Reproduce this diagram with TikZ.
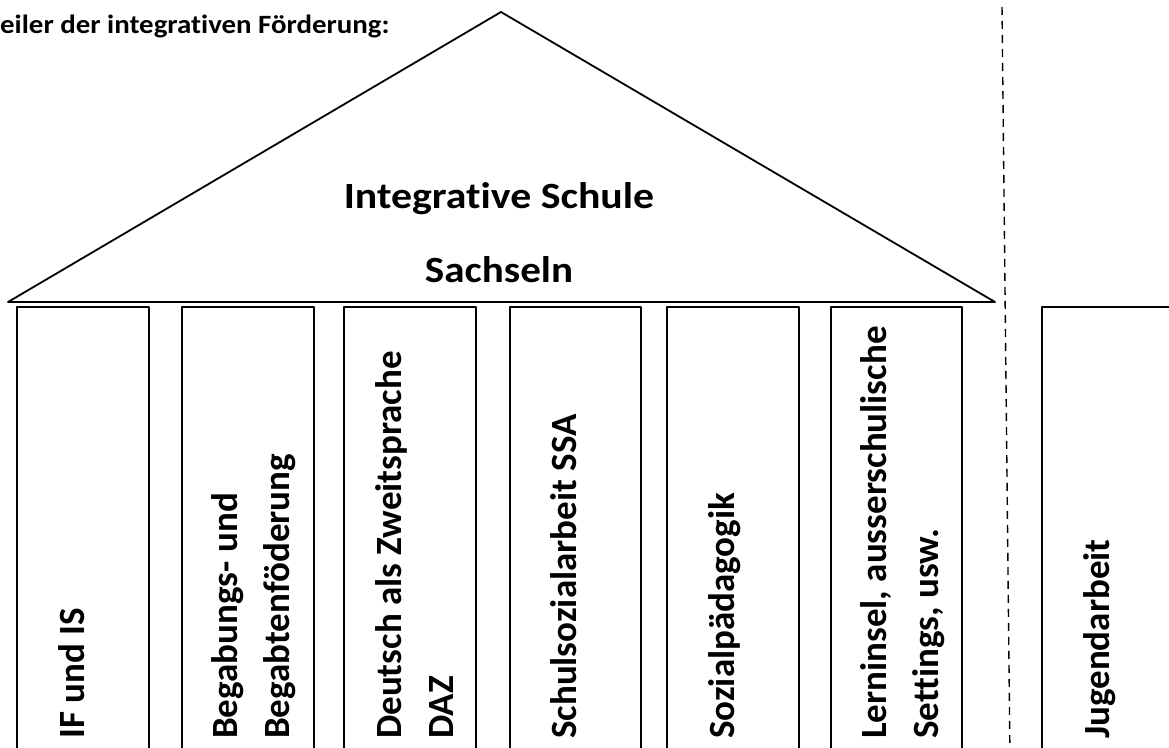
\documentclass[tikz,border=0pt]{standalone}
\usepackage{fontspec}
\setmainfont{Carlito}[Ligatures=NoCommon]
\usetikzlibrary{calc}
\definecolor{qqqqqq}{rgb}{0.,0.,0.}
\tikzset{
  saeule/.style={line width=1.2pt,color=qqqqqq},
  dach/.style={line width=1.8pt,color=qqqqqq},
  saeulentext/.style={rotate=90,anchor=north west,inner sep=0pt,align=left,font=\fontsize{37}{52}\selectfont\bfseries},
  dachtext/.style={anchor=base,inner sep=0pt,font=\fontsize{37}{44}\selectfont\bfseries}
}

\begin{document}
\begin{tikzpicture}[line cap=round,line join=round,x=1pt,y=-1pt]
            \useasboundingbox (0,0) rectangle (1169,747);
            \clip (0,0) rectangle (1169,747);
            % Titel
            \node (titel) at (0,33) [anchor=base west,inner sep=0pt,font=\fontsize{26.4}{31}\selectfont\bfseries] {\scalebox{1.095}[1]{eiler der integrativen Förderung:}};
            % Dach
            \coordinate (dachlinks) at (8,302);
            \coordinate (dachspitze) at (501,12);
            \coordinate (dachrechts) at (995,302);
            \draw [dach] (dachlinks) -- (dachspitze) -- (dachrechts) -- cycle;
            \node (schule) at (499,208) [dachtext] {\scalebox{1.13}[1]{Integrative Schule}};
            \node (ort) at (499,282) [dachtext] {\scalebox{1.11}[1]{Sachseln}};
            % Saeulen
            \draw [saeule] (17,760) -- (17,307) -- (149,307) -- (149,760);
            \draw [saeule] (182,760) -- (182,307) -- (314,307) -- (314,760);
            \draw [saeule] (344,760) -- (344,307) -- (476,307) -- (476,760);
            \draw [saeule] (510,760) -- (510,307) -- (641,307) -- (641,760);
            \draw [saeule] (667,760) -- (667,307) -- (799,307) -- (799,760);
            \draw [saeule] (831,760) -- (831,307) -- (962,307) -- (962,760);
            \draw [saeule] (1042,760) -- (1042,307) -- (1180,307);
            \node (if) at (58,739) [saeulentext] {IF und IS};
            \node (begabung) at (211,739) [saeulentext] {Begabungs- und\\Begabtenföderung};
            \node (daz) at (375,739) [saeulentext] {Deutsch als Zweitsprache\\DAZ};
            \node (ssa) at (550,739) [saeulentext] {Schulsozialarbeit SSA};
            \node (sozpaed) at (708,739) [saeulentext] {Sozialpädagogik};
            \node (lerninsel) at (860,739) [saeulentext] {Lerninsel, ausserschulische\\Settings, usw.};
            \node (jugend) at (1083,739) [saeulentext] {Jugendarbeit};
            % Trennlinie
            \draw [line width=1.4pt,line cap=butt,dash pattern=on 8pt off 6pt] (1002,7) -- (1010,760);
\end{tikzpicture}
\end{document}
